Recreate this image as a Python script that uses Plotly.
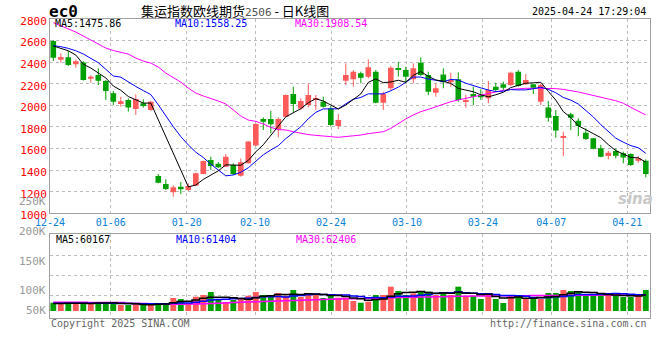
import plotly.graph_objects as go

# ---------------- data ----------------
dates = [
    "2024-12-24", "2024-12-25", "2024-12-26", "2024-12-27", "2024-12-30", "2024-12-31", "2025-01-02", "2025-01-03", "2025-01-06", "2025-01-07",
    "2025-01-08", "2025-01-09", "2025-01-10", "2025-01-13", "2025-01-14", "2025-01-15", "2025-01-16", "2025-01-17", "2025-01-20", "2025-01-21",
    "2025-01-22", "2025-01-23", "2025-01-24", "2025-01-27", "2025-02-05", "2025-02-06", "2025-02-07", "2025-02-10", "2025-02-11", "2025-02-12",
    "2025-02-13", "2025-02-14", "2025-02-17", "2025-02-18", "2025-02-19", "2025-02-20", "2025-02-21", "2025-02-24", "2025-02-25", "2025-02-26",
    "2025-02-27", "2025-02-28", "2025-03-03", "2025-03-04", "2025-03-05", "2025-03-06", "2025-03-07", "2025-03-10", "2025-03-11", "2025-03-12",
    "2025-03-13", "2025-03-14", "2025-03-17", "2025-03-18", "2025-03-19", "2025-03-20", "2025-03-21", "2025-03-24", "2025-03-25", "2025-03-26",
    "2025-03-27", "2025-03-28", "2025-03-31", "2025-04-01", "2025-04-02", "2025-04-03", "2025-04-07", "2025-04-08", "2025-04-09", "2025-04-10",
    "2025-04-11", "2025-04-14", "2025-04-15", "2025-04-16", "2025-04-17", "2025-04-18", "2025-04-21", "2025-04-22", "2025-04-23", "2025-04-24",
]
open_ = [
    2596, 2423, 2445, 2380, 2398, 2247, 2281, 2226, 2111, 2019,
    2050, 1966, 2019, 1957, 1345, 1271, 1194, 1246, 1216, 1256,
    1364, 1494, 1460, 1432, 1448, 1349, 1463, 1627, 1874, 1874,
    1781, 1895, 2105, 1972, 2003, 2050, 2034, 1972, 1809, 2229,
    2241, 2297, 2266, 2312, 2025, 2158, 2343, 2327, 2241, 2395,
    2281, 2117, 2287, 2213, 2241, 2034, 2096, 2090, 2065, 2173,
    2195, 2188, 2312, 2195, 2195, 2034, 1979, 1901, 1701, 1917,
    1858, 1747, 1695, 1602, 1531, 1577, 1556, 1549, 1487, 1487,
]
high = [
    2605, 2482, 2503, 2426, 2408, 2278, 2343, 2235, 2133, 2080,
    2065, 2102, 2056, 2040, 1364, 1315, 1259, 1290, 1278, 1377,
    1488, 1525, 1475, 1549, 1463, 1509, 1667, 1833, 1889, 1948,
    1889, 2102, 2173, 2065, 2204, 2096, 2080, 1994, 1920, 2389,
    2327, 2312, 2426, 2327, 2127, 2364, 2405, 2358, 2389, 2445,
    2312, 2204, 2343, 2303, 2306, 2096, 2173, 2148, 2226, 2210,
    2219, 2312, 2327, 2290, 2200, 2204, 2040, 1957, 1756, 1932,
    1880, 1787, 1695, 1633, 1580, 1602, 1571, 1556, 1531, 1500,
]
low = [
    2411, 2395, 2364, 2349, 2229, 2210, 2188, 2050, 2003, 1988,
    1942, 1911, 1979, 1948, 1278, 1216, 1154, 1179, 1207, 1253,
    1361, 1401, 1420, 1432, 1355, 1340, 1460, 1627, 1772, 1741,
    1704, 1893, 1935, 1957, 1982, 1957, 1979, 1803, 1781, 2188,
    2173, 2204, 2250, 2019, 1957, 2142, 2266, 2204, 2204, 2272,
    2096, 2080, 2158, 2173, 2034, 1979, 2003, 2050, 2019, 2127,
    2142, 2179, 2173, 2188, 2105, 2003, 1849, 1701, 1531, 1772,
    1716, 1679, 1593, 1519, 1500, 1509, 1463, 1438, 1469, 1333,
]
close = [
    2442, 2448, 2374, 2408, 2235, 2266, 2229, 2133, 2034, 2037,
    1979, 2059, 1994, 2034, 1283, 1225, 1241, 1222, 1253, 1370,
    1485, 1438, 1426, 1525, 1364, 1472, 1664, 1827, 1849, 1824,
    1874, 2096, 2013, 2040, 2096, 2065, 1988, 1818, 1864, 2281,
    2312, 2256, 2352, 2025, 2105, 2349, 2327, 2266, 2343, 2281,
    2127, 2158, 2213, 2235, 2050, 2050, 2080, 2075, 2142, 2142,
    2164, 2303, 2179, 2235, 2164, 2188, 1886, 1766, 1707, 1886,
    1809, 1688, 1599, 1524, 1561, 1533, 1518, 1447, 1509, 1364,
]
ma5 = [
    2550, 2528, 2506, 2466, 2381, 2346, 2302, 2254, 2179, 2140,
    2082, 2048, 2021, 2021, 1870, 1719, 1555, 1401, 1245, 1262,
    1314, 1354, 1394, 1449, 1448, 1445, 1490, 1570, 1635, 1727,
    1808, 1894, 1931, 1969, 2024, 2062, 2040, 2001, 1966, 2003,
    2053, 2106, 2213, 2245, 2210, 2217, 2232, 2214, 2278, 2313,
    2269, 2235, 2224, 2203, 2157, 2141, 2126, 2098, 2079, 2098,
    2121, 2165, 2186, 2205, 2209, 2214, 2130, 2048, 1942, 1887,
    1811, 1771, 1738, 1701, 1636, 1581, 1547, 1517, 1514, 1474,
]
ma10 = [
    2553, 2544, 2528, 2506, 2476, 2435, 2395, 2334, 2272, 2261,
    2214, 2175, 2137, 2100, 2005, 1901, 1802, 1711, 1633, 1566,
    1517, 1455, 1398, 1347, 1355, 1380, 1422, 1482, 1542, 1587,
    1626, 1692, 1751, 1802, 1876, 1935, 1967, 1966, 1968, 2014,
    2057, 2073, 2107, 2106, 2107, 2135, 2169, 2214, 2262, 2262,
    2243, 2233, 2219, 2240, 2235, 2205, 2180, 2162, 2142, 2128,
    2131, 2146, 2143, 2143, 2154, 2168, 2148, 2117, 2073, 2048,
    2012, 1951, 1893, 1821, 1761, 1696, 1659, 1627, 1607, 1556,
]
ma30 = [
    2766, 2739, 2711, 2679, 2642, 2605, 2568, 2531, 2508, 2494,
    2475, 2438, 2410, 2392, 2355, 2299, 2253, 2215, 2160, 2114,
    2087, 2065, 2040, 2013, 1957, 1901, 1864, 1852, 1827, 1796,
    1775, 1772, 1756, 1741, 1729, 1722, 1719, 1710, 1704, 1710,
    1716, 1725, 1738, 1744, 1756, 1787, 1833, 1874, 1911, 1942,
    1963, 1988, 2013, 2034, 2050, 2065, 2080, 2096, 2111, 2127,
    2139, 2148, 2155, 2158, 2158, 2158, 2158, 2155, 2148, 2139,
    2124, 2108, 2090, 2071, 2059, 2043, 2019, 1982, 1948, 1911,
]
volume = [
    31200, 26300, 30100, 26300, 32700, 26300, 32700, 32700, 29000, 22600,
    22600, 27400, 22600, 22600, 30100, 30100, 48900, 45100, 30100, 53800,
    60200, 71400, 41400, 33800, 41400, 45100, 57500, 71400, 60200, 52600,
    67700, 57500, 79000, 52600, 67700, 63900, 48900, 60200, 50000, 50000,
    37600, 31200, 35000, 60200, 60200, 91400, 75200, 60200, 66500, 72600,
    72600, 60200, 67700, 60200, 91400, 56400, 56400, 45100, 67700, 45100,
    30100, 60200, 60200, 45100, 45100, 45100, 67700, 67700, 79000, 75200,
    71400, 60200, 60200, 60200, 60200, 60200, 52600, 52600, 56400, 79000,
]
vma5 = [
    28000, 28000, 29000, 29000, 29320, 28340, 29620, 30140, 30680, 28660,
    27920, 26860, 24840, 23560, 25060, 26560, 30860, 35360, 36860, 41600,
    47620, 52120, 51380, 52120, 49640, 46620, 43840, 49840, 55120, 57360,
    61880, 61880, 63400, 61880, 64900, 64140, 62420, 58660, 58140, 54600,
    49340, 45800, 40760, 42800, 44840, 55600, 64400, 69440, 70700, 73180,
    69420, 66420, 67920, 66660, 70420, 67180, 66420, 61900, 63400, 54140,
    48880, 49640, 52660, 48140, 48140, 51140, 52640, 54140, 60920, 66940,
    72200, 70700, 69200, 65440, 62440, 60200, 58680, 57160, 56400, 60160,
]
vma10 = [
    29000, 29000, 29000, 29000, 29000, 29500, 29500, 29500, 29500, 28990,
    28130, 28240, 27490, 27120, 26860, 27240, 28860, 30100, 30210, 33330,
    37090, 41490, 43370, 44490, 45620, 47120, 47980, 50610, 53620, 53500,
    54250, 52860, 56620, 58500, 61130, 63010, 62150, 61030, 60010, 59750,
    56740, 54110, 49710, 50470, 49720, 52470, 55100, 55100, 56750, 59010,
    62510, 65410, 68680, 68680, 71800, 68300, 66420, 64910, 65030, 62280,
    58030, 58030, 57280, 55770, 51140, 50010, 51140, 53400, 54530, 57540,
    61670, 61670, 61670, 63180, 64690, 66200, 64690, 63180, 60920, 61300,
]
vma30 = [
    33000, 33000, 32800, 32600, 32500, 32400, 32200, 32000, 31800, 31500,
    29000, 28500, 28000, 27500, 26000, 25000, 25000, 25500, 26000, 26500,
    27500, 28500, 29500, 30500, 31500, 32500, 33500, 34500, 35500, 36500,
    37500, 38500, 39500, 40500, 41500, 42500, 43500, 44500, 45500, 46000,
    46500, 47000, 47500, 48000, 48500, 49500, 50500, 51500, 52000, 52500,
    53000, 53500, 54000, 54500, 55000, 55500, 56000, 56000, 56500, 56500,
    57000, 57000, 57500, 57500, 58000, 58000, 58500, 58500, 59000, 59000,
    59500, 59500, 59500, 60000, 60000, 60000, 60200, 60200, 60300, 60400,
]
tick_dates = ["2024-12-24", "2025-01-06", "2025-01-20", "2025-02-10", "2025-02-24",
              "2025-03-10", "2025-03-24", "2025-04-07", "2025-04-21"]
price_ticks = [1000, 1200, 1400, 1600, 1800, 2000, 2200, 2400, 2600, 2800]
vol_labels = ["250K", "200K", "150K", "100K", "50K"]

# ---------------- geometry helpers ----------------
W, H = 660, 360
ML, MR, MT, MB = 50, 10, 19, 42
PW, PH = W - ML - MR, H - MT - MB
def px_x(px): return (px - ML) / PW
def px_y(py): return (H - MB - py) / PH

MONO = "DejaVu Sans Mono"
RED, GREEN = "#ff5a5a", "#00a000"
GRID = "#bcbcbc"
BORDER = "#a0a0a0"

n = len(dates)
x = list(range(n))
up = [c >= o for o, c in zip(open_, close)]
colors = [RED if u else GREEN for u in up]

XMIN = -0.44
XMAX = XMIN + n
tickvals = [XMIN + dates.index(d) * n / (n - 1) for d in tick_dates]
ticktext = [d[5:] for d in tick_dates]

VOL_PER_PX = 3760
VBASE_PX = 311
vol_lo = -(H - MB - VBASE_PX) * VOL_PER_PX
vol_hi = (VBASE_PX - 234) * VOL_PER_PX
vol_grid = [(VBASE_PX - p) * VOL_PER_PX for p in (255, 275, 295)]

# ---------------- traces ----------------
fig = go.Figure()

fig.add_trace(go.Bar(x=x, y=[c - o for o, c in zip(open_, close)], base=open_,
                     marker=dict(color=colors, line=dict(width=0)), width=0.75,
                     xaxis="x", yaxis="y", hoverinfo="skip"))
for flag, col in ((True, RED), (False, GREEN)):
    wx, wy = [], []
    for i in x:
        if up[i] == flag:
            wx += [i, i, None]
            wy += [low[i], high[i], None]
    fig.add_trace(go.Scatter(x=wx, y=wy, mode="lines", line=dict(color=col, width=1),
                             xaxis="x", yaxis="y", hoverinfo="skip"))

for series, col in ((ma30, "#ff00ff"), (ma10, "#0000ff"), (ma5, "#000000")):
    fig.add_trace(go.Scatter(x=x, y=series, mode="lines", line=dict(color=col, width=1),
                             xaxis="x", yaxis="y", hoverinfo="skip"))

fig.add_trace(go.Bar(x=x, y=volume, marker=dict(color=colors, line=dict(width=0)), width=0.78,
                     xaxis="x2", yaxis="y2", hoverinfo="skip"))
for series, col in ((vma30, "#ff00ff"), (vma10, "#0000ff"), (vma5, "#000000")):
    fig.add_trace(go.Scatter(x=x, y=series, mode="lines", line=dict(color=col, width=1.5, shape="hvh"),
                             xaxis="x2", yaxis="y2", hoverinfo="skip"))

# ---------------- layout ----------------
common_x = dict(range=[XMIN, XMAX], tickmode="array", tickvals=tickvals, showgrid=True,
                gridcolor=GRID, griddash="dot", gridwidth=1, zeroline=False,
                showline=True, linecolor=BORDER, linewidth=1, mirror=True, ticks="")

fig.update_layout(
    width=W, height=H, margin=dict(l=ML, r=MR, t=MT, b=MB, autoexpand=False),
    paper_bgcolor="white", plot_bgcolor="white", showlegend=False, barmode="overlay",
    xaxis=dict(**common_x, anchor="y", ticktext=ticktext,
               tickfont=dict(family=MONO, size=10, color="#0a82d8")),
    xaxis2=dict(**common_x, anchor="y2", matches="x", showticklabels=False),
    yaxis=dict(domain=[px_y(213.3), 1], range=[1000, 2800], tickmode="array", tickvals=price_ticks,
               tickfont=dict(family=MONO, size=11, color="#ff0000"), showgrid=True, gridcolor=GRID,
               griddash="dot", gridwidth=1, zeroline=False, showline=True, linecolor=BORDER,
               mirror=True, ticks="", ticklabelshift=2),
    yaxis2=dict(domain=[0, px_y(234)], range=[vol_lo, vol_hi], tickmode="array", tickvals=vol_grid,
                showticklabels=False, showgrid=True, gridcolor=GRID, griddash="dot", gridwidth=1,
                zeroline=False, showline=True, linecolor=BORDER, mirror=True, ticks=""),
)

ann = []
def text(px, py, s, color="#000", size=10, family=MONO, anchor="left", **kw):
    ann.append(dict(x=px_x(px), y=px_y(py), xref="paper", yref="paper", text=s, showarrow=False,
                    xanchor=anchor, yanchor="middle", font=dict(family=family, size=size, color=color), **kw))

text(47, 11.5, "<b>ec0</b>", size=16)
text(139, 10.5, "集运指数欧线期货<span style='color:#555555;font-family:DejaVu Sans Mono;font-size:11px'>2506</span>&nbsp;-&nbsp;日K线图",
     size=13, family="Noto Sans CJK SC")
text(648, 11.5, "2025-04-24 17:29:04", size=10, anchor="right")
text(53, 23.5, "MA5:1475.86", size=10)
text(173, 23.5, "MA10:1558.25", color="#0000ff", size=10)
text(293, 23.5, "MA30:1908.54", color="#ff00ff", size=10)
text(54, 239, "MA5:60167", size=10)
text(174, 239, "MA10:61404", color="#0000ff", size=10)
text(294, 239, "MA30:62406", color="#ff00ff", size=10)
for lab, py in zip(vol_labels, (201, 231, 261, 290, 310)):
    text(47.5, py, lab, color="#9a9a9a", size=11, anchor="right")
text(49, 323.5, "Copyright 2025 SINA.COM", color="#666666", size=10)
text(649, 323.5, "http://finance.sina.com.cn", color="#666666", size=10, anchor="right")
text(635, 199, "<b><i>sina</i></b>", color="#c8c8c8", size=15, family="DejaVu Sans", anchor="center")
fig.update_layout(annotations=ann)

fig.write_html("out.html", config={"displayModeBar": False},
               post_script="document.body.style.margin='0';document.body.style.padding='0';")
